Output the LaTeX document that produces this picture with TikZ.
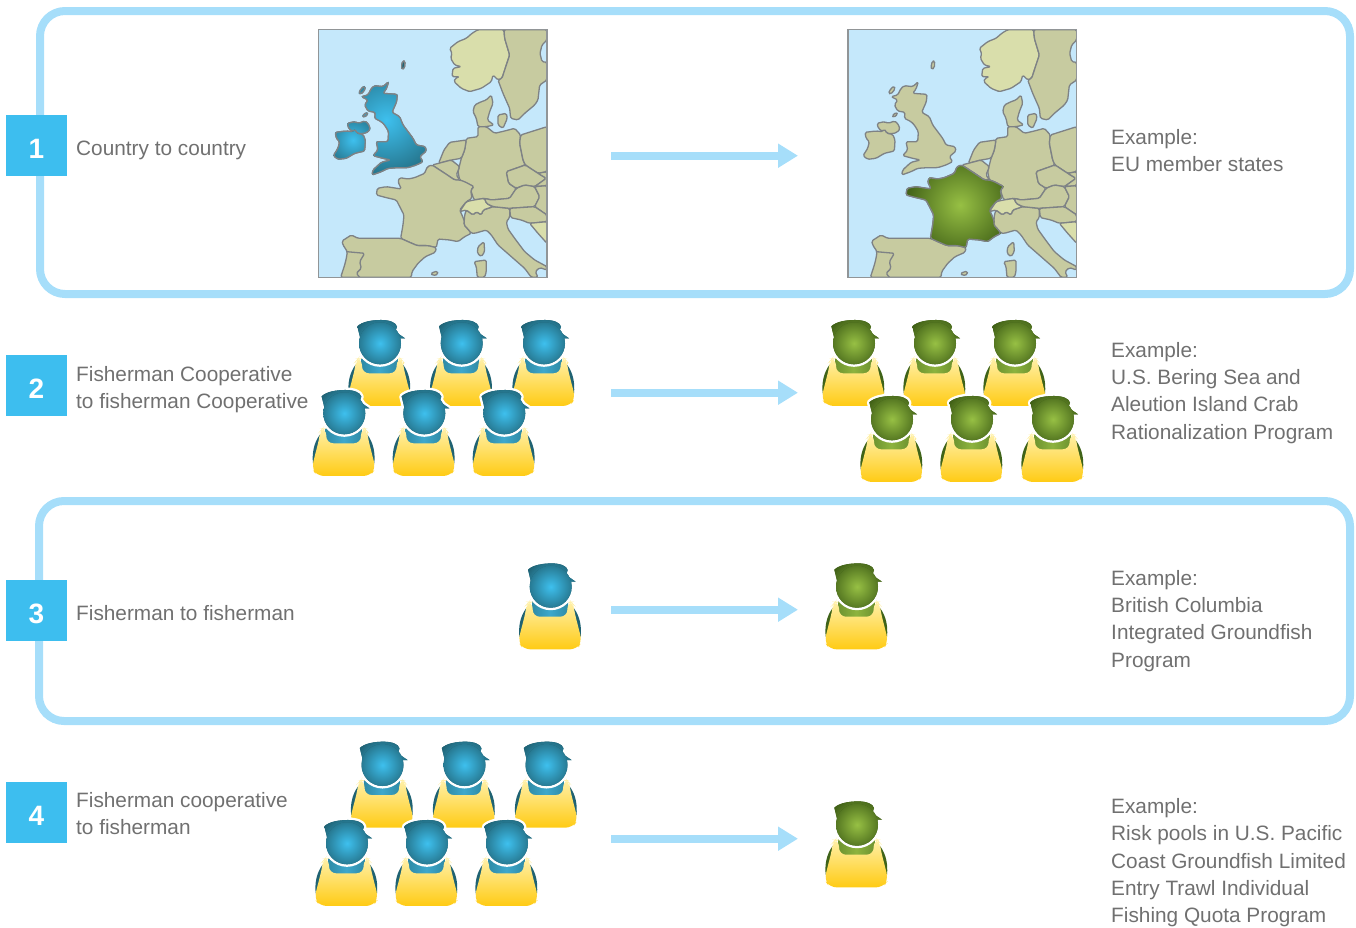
\documentclass[tikz,border=0pt]{standalone}
\usepackage{fontspec}
\setmainfont{Liberation Sans}
\usetikzlibrary{arrows.meta}
\definecolor{frameblue}{HTML}{A6DEFA}
\definecolor{badge}{HTML}{3DBEEF}
\definecolor{txt}{HTML}{707070}
\definecolor{sea}{HTML}{C5E8FB}
\definecolor{tan}{HTML}{C7CBA0}
\definecolor{lightland}{HTML}{D9DEAB}
\definecolor{border}{HTML}{7E8285}
\definecolor{apron}{HTML}{FFCB14}
\definecolor{bibtop}{HTML}{FFF0A8}
\definecolor{bluehi}{HTML}{3EC0EE}
\definecolor{bluelo}{HTML}{1F6274}
\definecolor{bluemid}{HTML}{3EA8CC}
\definecolor{blueside}{HTML}{2F8BA6}
\definecolor{blueback}{HTML}{1F6272}
\definecolor{greenhi}{HTML}{97C044}
\definecolor{greenlo}{HTML}{3F5F16}
\definecolor{greenmid}{HTML}{8DB33E}
\definecolor{greenside}{HTML}{6E9430}
\definecolor{greenback}{HTML}{3F6318}
\def\pCap{(54,44) .. controls (68,30) and (98,25) .. (125,25) .. controls (150,25) and (170,32) .. (173,45) -- (168,60) -- (197,80) -- (176,80) -- (150,110) -- (70,110) -- cycle}
\def\pHead{(122,95) circle (21*3)}
\def\pNorway{(480,14)--(558,14)--(560,40)--(575,90)--(565,120)--(552,160)--(540,165)--(525,150)--(520,170)--(490,190)--(455,200)--(430,190)--(408,170)--(412,160)--(425,155)--(402,155)--(405,130)--(430,125)--(410,120)--(398,100)--(402,85)--(395,70)--(420,50)--(445,40)--(462,25)--cycle}
\def\pSweden{(558,14)--(687,14)--(687,45)--(672,60)--(666,85)--(672,110)--(687,112)--(687,165)--(665,180)--(660,225)--(650,240)--(620,265)--(600,285)--(578,280)--(575,250)--(555,205)--(540,165)--(552,160)--(565,120)--(575,90)--(560,40)--cycle}
\def\pJutland{(470,240)--(490,230)--(505,225)--(520,210)--(525,235)--(515,260)--(508,285)--(528,300)--(505,305)--(480,305)--(475,280)--(465,260)--cycle}
\def\pZealand{(540,270)--(565,265)--(568,280)--(555,310)--(540,300)--cycle}
\def\pGermany{(480,305)--(505,305)--(530,325)--(560,318)--(590,310)--(608,330)--(605,355)--(615,405)--(622,420)--(565,440)--(572,475)--(595,490)--(575,520)--(520,525)--(500,520)--(468,525)--(458,495)--(468,485)--(425,465)--(420,440)--(430,400)--(440,375)--(445,340)--(480,335)--cycle}
\def\pNether{(362,415)--(378,375)--(395,352)--(445,345)--(440,375)--(430,400)--(400,405)--cycle}
\def\pBelgium{(342,420)--(362,415)--(400,405)--(425,425)--(415,450)--(425,465)--(410,465)--(385,448)--cycle}
\def\pFrance{(328,425)--(342,420)--(385,448)--(410,465)--(425,465)--(440,470)--(468,485)--(458,495)--(462,520)--(445,530)--(425,555)--(432,570)--(440,590)--(438,600)--(448,610)--(460,625)--(440,635)--(420,650)--(395,645)--(360,642)--(355,668)--(330,662)--(298,662)--(270,650)--(248,640)--(255,600)--(258,570)--(235,525)--(205,518)--(175,510)--(178,490)--(205,485)--(250,492)--(240,470)--(245,458)--(270,462)--(290,458)--(320,445)--cycle}
\def\pSwiss{(425,560)--(445,530)--(468,525)--(500,520)--(505,535)--(525,545)--(495,555)--(490,570)--(475,560)--(465,570)--(445,555)--cycle}
\def\pItaly{(438,600)--(440,570)--(445,555)--(465,570)--(475,560)--(490,570)--(495,555)--(525,545)--(575,550)--(575,578)--(565,590)--(570,612)--(590,640)--(620,680)--(650,705)--(687,725)--(687,735)--(665,728)--(652,740)--(660,757)--(640,757)--(620,730)--(580,695)--(540,660)--(520,630)--(505,615)--(470,625)--(460,625)--(448,610)--cycle}
\def\pPoland{(608,330)--(687,305)--(687,440)--(660,445)--(622,420)--(615,405)--(605,355)--cycle}
\def\pCzech{(565,440)--(622,420)--(660,445)--(685,460)--(650,485)--(620,480)--(595,490)--(572,475)--cycle}
\def\pSlovakia{(660,445)--(687,440)--(687,482)--(650,485)--(685,460)--cycle}
\def\pAustria{(500,520)--(520,525)--(575,520)--(595,490)--(620,480)--(650,485)--(665,515)--(650,545)--(575,550)--(525,545)--(505,535)--cycle}
\def\pHungary{(650,485)--(687,482)--(687,570)--(650,545)--(665,515)--cycle}
\def\pCroatia{(575,550)--(650,545)--(687,570)--(687,590)--(635,595)--(610,585)--(578,578)--cycle}
\def\pBosnia{(635,595)--(687,590)--(687,655)--(660,625)--cycle}
\def\pSpain{(72,648)--(100,630)--(120,640)--(170,640)--(248,640)--(270,650)--(298,662)--(330,662)--(355,668)--(352,682)--(322,695)--(300,715)--(282,740)--(280,757)--(68,757)--(80,720)--(85,700)--(88,680)--(75,660)--cycle}
\def\pCorsica{(480,665)--(498,650)--(500,680)--(490,695)--(478,685)--cycle}
\def\pSardinia{(468,710)--(505,705)--(505,740)--(500,757)--(478,757)--(475,725)--cycle}
\def\pBalearic{(338,745)--(358,738)--(360,748)--(345,752)--cycle}
\def\pIreland{(52,322)--(85,318)--(105,320)--(110,312)--(118,325)--(135,328)--(142,345)--(140,378)--(110,385)--(85,400)--(60,403)--(46,392)--(60,370)--(65,350)--(55,340)--cycle}
\def\pUlster{(88,295)--(110,290)--(122,295)--(140,288)--(150,295)--(157,312)--(148,322)--(135,326)--(118,325)--(110,312)--(105,320)--(92,310)--cycle}
\def\pBritain{(170,182)--(195,185)--(212,170)--(205,192)--(195,205)--(238,208)--(236,230)--(222,262)--(245,275)--(255,300)--(285,340)--(295,360)--(322,365)--(325,378)--(305,395)--(315,410)--(295,420)--(270,428)--(240,428)--(210,430)--(190,440)--(162,450)--(165,435)--(190,412)--(218,405)--(195,400)--(165,392)--(180,375)--(175,350)--(210,350)--(212,320)--(200,300)--(190,290)--(170,280)--(172,262)--(150,258)--(140,240)--(150,225)--(130,215)--(150,210)--(160,190)--cycle}
\def\pSkye{(122,205)--(130,190)--(140,183)--(142,192)--(130,207)--cycle}
\def\pLewis{(133,272)--(146,262)--(150,268)--(138,277)--cycle}
\def\pShetland{(250,125)--(254,108)--(261,108)--(260,128)--(252,134)--cycle}
\newcommand\landshape[2]{\filldraw[land,fill=#1] #2;}
\newcommand\glowfill[5]{% path, centre x, centre y, radius, colour prefix
  \begin{scope}\clip #1;
    \fill[#5lo] (-100,-100) rectangle (800,800);
    \shade[inner color=#5hi,outer color=#5lo] (#2,#3) circle (#4);
  \end{scope}}
\newcommand\glowshape[5]{\glowfill{#1}{#2}{#3}{#4}{#5}\draw[land] #1;}
\tikzset{
  x=1pt,y=-1pt,
  frame/.style={draw=frameblue,line width=8pt,rounded corners=25pt,inner sep=0pt,fill=none},
  numbox/.style={fill=badge,text=white,minimum size=61pt,inner sep=0pt,text height=25pt,text depth=0pt,font=\fontsize{28}{28}\selectfont\bfseries},
  label/.style={anchor=north west,inner sep=0pt,align=left,text=txt,font=\fontsize{20.8}{27.3}\selectfont,execute at begin node=\strut},
  flow/.style={draw=frameblue,line width=8pt,-{Triangle[length=20pt,width=23pt]}},
  land/.style={draw=border,line width=1.3pt,rounded corners=1.5pt,line join=round},
  person/.pic={
    \begin{scope}[x=.3333pt,y=-.3333pt,shift={(-122,-95)}]
      \fill[color=#1back] (48,160) .. controls (30,185) and (25,215) .. (28,245) -- (212,245) .. controls (215,215) and (210,185) .. (192,160) -- cycle;
      \shade[left color=#1side,right color=#1side,middle color=#1mid] (66,140) rectangle (174,190);
      \shade[top color=bibtop,bottom color=apron,rounded corners=7pt] (50,147) -- (56,140) -- (68,140) -- (68,185) -- (172,185) -- (172,140) -- (184,140) -- (190,147) -- (193,170) -- (216,260) -- (200,283) -- (40,283) -- (24,260) -- (47,170) -- cycle;
      \filldraw[draw=white,fill=white,line width=5pt,line join=round] \pCap;
      \filldraw[draw=white,fill=white,line width=5pt] \pHead;
      \glowfill{\pCap}{122}{95}{85}{#1}
      \glowfill{\pHead}{122}{95}{85}{#1}
    \end{scope}
  },
  westmap/.pic={
    \begin{scope}[x=.3333pt,y=-.3333pt]
      \fill[sea] (1,14) rectangle (687,757);
      \begin{scope}
        \clip (1,14) rectangle (687,757);
        \landshape{lightland}{\pNorway}
        \landshape{tan}{\pSweden}
        \landshape{tan}{\pJutland}
        \landshape{tan}{\pZealand}
        \landshape{tan}{\pGermany}
        \landshape{tan}{\pNether}
        \landshape{tan}{\pBelgium}
        \landshape{tan}{\pFrance}
        \landshape{tan}{\pItaly}
        \landshape{lightland}{\pSwiss}
        \landshape{tan}{\pPoland}
        \landshape{tan}{\pCzech}
        \landshape{tan}{\pSlovakia}
        \landshape{tan}{\pAustria}
        \landshape{tan}{\pHungary}
        \landshape{tan}{\pCroatia}
        \landshape{lightland}{\pBosnia}
        \landshape{tan}{\pSpain}
        \draw[land] (85,680) -- (140,685) -- (125,710) -- (130,730) -- (115,745) -- (125,757);
        \landshape{tan}{\pCorsica}
        \landshape{tan}{\pSardinia}
        \landshape{tan}{\pBalearic}
        \landshape{tan}{\pIreland}
        \landshape{tan}{\pUlster}
        \landshape{tan}{\pBritain}
        \landshape{tan}{\pSkye}
        \landshape{tan}{\pLewis}
        \landshape{tan}{\pShetland}
        #1
      \end{scope}
      \draw[border!85!white,line width=1.2pt] (1,14) rectangle (687,757);
    \end{scope}
  },
}
\begin{document}
\begin{tikzpicture}
\useasboundingbox (0,0) rectangle (1356,927);
% frames
\node[frame,minimum width=1310pt,minimum height=283pt] (box1) at (695,152.5) {};
\node[frame,minimum width=1311pt,minimum height=220pt] (box3) at (694.5,611) {};
% badges
\node[numbox] (n1) at (36.5,145.5) {1};
\node[numbox] (n2) at (36.5,385.5) {2};
\node[numbox] (n3) at (36.5,610.5) {3};
\node[numbox] (n4) at (36.5,812.5) {4};
% left labels
\node[label] (t1) at (76,136.4) {Country to country};
\node[label] (t2) at (76,365.9) {Fisherman Cooperative\\to fisherman Cooperative};
\node[label] (t3) at (76,600.9) {Fisherman to fisherman};
\node[label] (t4) at (76,791.9) {Fisherman cooperative\\to fisherman};
% right labels
\node[label] (e1) at (1111,128.9) {Example:\\EU member states};
\node[label] (e2) at (1111,341.9) {Example:\\U.S. Bering Sea and\\Aleution Island Crab\\Rationalization Program};
\node[label] (e3) at (1111,569.9) {Example:\\British Columbia\\Integrated Groundfish\\Program};
\node[label] (e4) at (1111,798.4) {Example:\\Risk pools in U.S. Pacific\\Coast Groundfish Limited\\Entry Trawl Individual\\Fishing Quota Program};
% maps
\pic (m1) at (318,25) {westmap={%
  \glowshape{\pBritain}{205}{285}{205}{blue}%
  \glowshape{\pIreland}{105}{345}{100}{blue}%
  \glowshape{\pUlster}{105}{345}{100}{blue}%
  \glowshape{\pSkye}{205}{285}{205}{blue}%
  \glowshape{\pLewis}{205}{285}{205}{blue}%
  \filldraw[land,fill=bluelo] \pShetland;}};
\pic (m2) at (847.7,25) {westmap={%
  \glowshape{\pFrance}{337}{540}{170}{green}}};
% people row 2
\pic (a1) at (380,343.3) {person=blue};
\pic (a2) at (461.7,343.3) {person=blue};
\pic (a3) at (544,343.3) {person=blue};
\pic (a4) at (344.3,413.3) {person=blue};
\pic (a5) at (424.3,413.3) {person=blue};
\pic (a6) at (504.3,413.3) {person=blue};
\pic (b1) at (854,343.3) {person=green};
\pic (b2) at (935,343.3) {person=green};
\pic (b3) at (1015,343.3) {person=green};
\pic (b4) at (892,419.3) {person=green};
\pic (b5) at (972,419.3) {person=green};
\pic (b6) at (1053,419.3) {person=green};
% row 3
\pic (c1) at (550.7,586.7) {person=blue};
\pic (c2) at (857,586.7) {person=green};
% row 4
\pic (d1) at (382.5,765) {person=blue};
\pic (d2) at (464.5,765) {person=blue};
\pic (d3) at (546.5,765) {person=blue};
\pic (d4) at (347,843.3) {person=blue};
\pic (d5) at (427,843.3) {person=blue};
\pic (d6) at (507,843.3) {person=blue};
\pic (d7) at (857,824.7) {person=green};
% arrows
\coordinate (s1) at (611,155.7); \coordinate (f1) at (798,155.7);
\coordinate (s2) at (611,392.7); \coordinate (f2) at (798,392.7);
\coordinate (s3) at (611,609.7); \coordinate (f3) at (798,609.7);
\coordinate (s4) at (611,838.7); \coordinate (f4) at (798,838.7);
\draw[flow] (s1) -- (f1);
\draw[flow] (s2) -- (f2);
\draw[flow] (s3) -- (f3);
\draw[flow] (s4) -- (f4);
\end{tikzpicture}
\end{document}
